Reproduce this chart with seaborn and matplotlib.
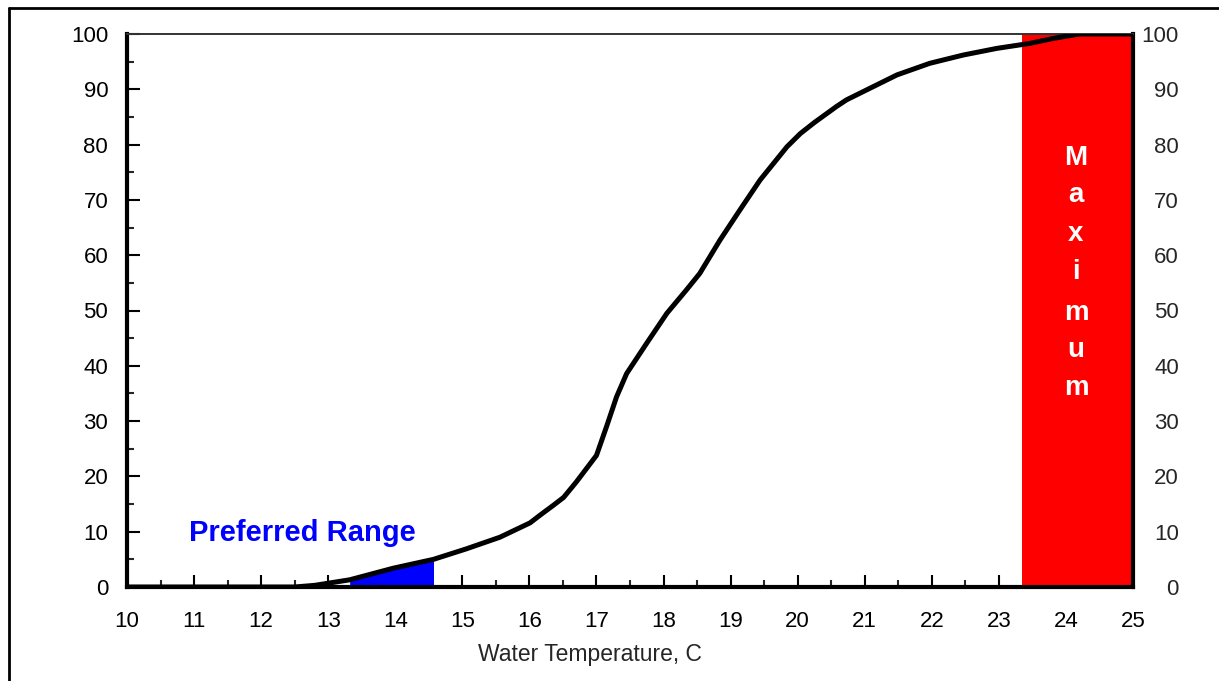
import matplotlib
matplotlib.use("Agg")
import matplotlib.pyplot as plt
from matplotlib.ticker import MultipleLocator
from matplotlib.lines import Line2D
import seaborn as sns
import pandas as pd
import numpy as np

temps = [10, 12.5, 12.8, 13.32, 13.97, 14.57, 15.06, 15.56, 16.01, 16.16, 16.36, 16.51,
         16.70, 16.80, 17.0, 17.15, 17.30, 17.45, 17.75, 18.05, 18.34, 18.54, 18.84,
         19.14, 19.44, 19.84, 20.04, 20.25, 20.58, 20.73, 21.23, 21.48, 21.97, 22.47,
         22.97, 23.46, 23.81, 24.2, 25]
percent = [0, 0, 0.3, 1.3, 3.4, 5.0, 6.9, 9.0, 11.6, 13.0, 14.8, 16.2,
           19.0, 20.6, 23.8, 29.0, 34.4, 38.6, 44.1, 49.5, 53.7, 56.7, 62.7,
           68.2, 73.6, 79.6, 82.0, 84.0, 86.9, 88.1, 91.1, 92.6, 94.7, 96.2,
           97.4, 98.3, 99.2, 100, 100]
preferred_range = [13.32, 14.57]
maximum_range = [23.35, 25]
x_ticks = list(range(10, 26))
y_ticks = list(range(0, 101, 10))
max_letters = list("Maximum")
max_letter_baselines = [76.3, 69.6, 62.6, 55.7, 48.3, 41.6, 34.7]

df = pd.DataFrame({"temp": temps, "pct": percent})

sns.set_style("white")
plt.rcParams['font.family'] = ['Liberation Sans', 'DejaVu Sans']

fig = plt.figure(figsize=(12.19, 6.81), dpi=100)
ax = fig.add_axes([127/1219, 1-587/681, (1133-127)/1219, (587-34)/681])

# maximum region
ax.axvspan(maximum_range[0], maximum_range[1], color="#ff0000", zorder=1, lw=0)
# preferred range fill under the curve
t = np.array(temps); p = np.array(percent)
mask = (t >= preferred_range[0]) & (t <= preferred_range[1])
ax.fill_between(t[mask], 0, p[mask], color="#0000ff", zorder=2, lw=0)

sns.lineplot(data=df, x="temp", y="pct", color="black", lw=3.6, ax=ax, zorder=3,
             solid_joinstyle="round", solid_capstyle="butt")

ax.set_xlim(10, 25)
ax.set_ylim(0, 100)
ax.set_xticks(x_ticks)
ax.set_yticks(y_ticks)
ax.xaxis.set_minor_locator(MultipleLocator(0.5))
ax.yaxis.set_minor_locator(MultipleLocator(5))
ax.tick_params(axis="both", which="major", direction="in", length=9, width=1.5,
               labelsize=16, colors="black")
ax.tick_params(axis="both", which="minor", direction="in", length=5, width=1.5)
ax.tick_params(axis="y", which="both", left=True, right=True, labelleft=True, labelright=False)
ax.tick_params(axis="y", which="major", pad=13.5)
ax.tick_params(axis="x", which="both", bottom=True, top=False)
ax.tick_params(axis="x", which="major", pad=17)

for s in ["left", "bottom", "right"]:
    ax.spines[s].set_linewidth(3)
    ax.spines[s].set_color("black")
ax.spines["top"].set_linewidth(1.4)
ax.spines["top"].set_color("#333333")

# right-hand labels (right aligned)
ax2 = ax.twinx()
ax2.set_ylim(0, 100)
ax2.set_yticks(y_ticks)
ax2.tick_params(axis="y", which="major", direction="in", length=0, labelsize=16,
                pad=33, left=False, right=True, labelright=True)
for lbl in ax2.get_yticklabels():
    lbl.set_horizontalalignment("right")
for s in ax2.spines.values():
    s.set_visible(False)

ax.set_xlabel("Water Temperature, C", fontsize=16.5)
ax.xaxis.set_label_coords(0.46, -0.102)
ax.set_ylabel("")

ax.text(12.62, 9.8, "Preferred Range", color="#0000ff", fontsize=21, fontweight="bold",
        ha="center", va="center", zorder=4)

for ch, yv in zip(max_letters, max_letter_baselines):
    ax.text(24.15, yv, ch, color="white", fontsize=20, fontweight="bold",
            ha="center", va="baseline", zorder=4)

# outer frame (left and top edges)
fig.add_artist(Line2D([9/1219, 9/1219], [0, 1-8/681], transform=fig.transFigure, color="black", lw=2))
fig.add_artist(Line2D([9/1219, 1], [1-8/681, 1-8/681], transform=fig.transFigure, color="black", lw=2))

fig.savefig("out.png", dpi=100)
